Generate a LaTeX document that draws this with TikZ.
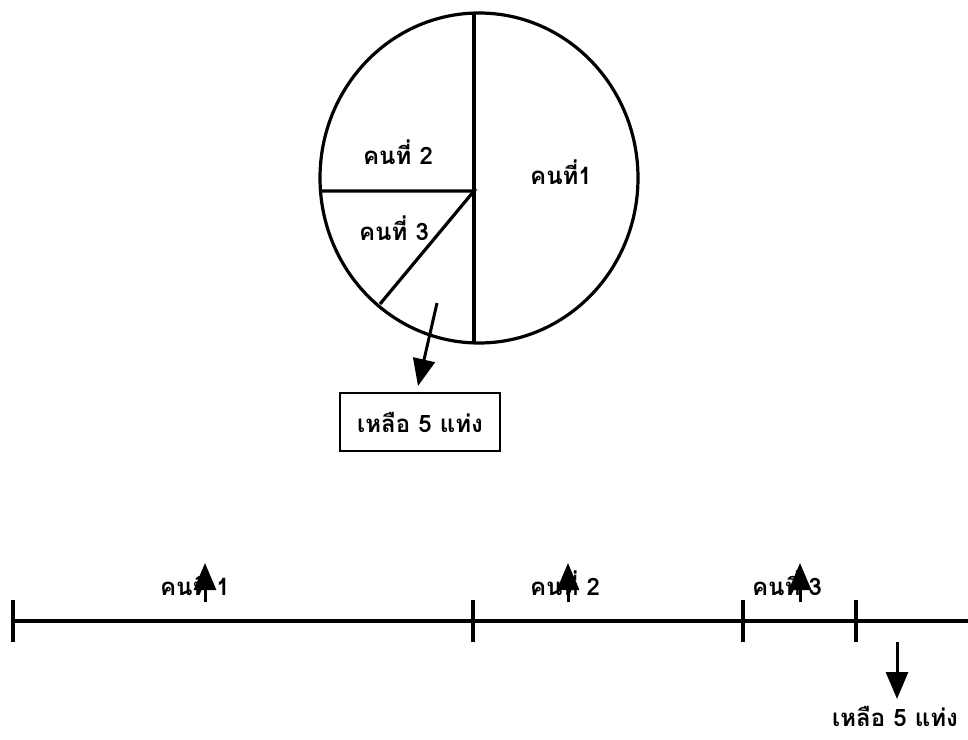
\documentclass[tikz,border=0pt]{standalone}
\usepackage{fontspec}
\newfontfamily\thaifont[Script=Thai]{Loma}
\usetikzlibrary{arrows.meta,positioning}
\tikzset{
  lbl/.style={font=\thaifont\bfseries\fontsize{24}{27}\selectfont,inner sep=0pt},
  restbox/.style={lbl,draw,line width=2.6pt,minimum width=160pt,minimum height=58pt},
  bar/.style={line width=3.2pt},
  ptr/.style={-{Triangle[width=22pt,length=27pt]},line width=3pt}
}

\begin{document}
\begin{tikzpicture}[x=1pt,y=-1pt]
  \useasboundingbox (0,0) rectangle (968,739);
  % pie
  \draw[bar] (479,178) ellipse [x radius=159pt,y radius=165pt];
  \coordinate (ptop) at (474,13);
  \coordinate (pbot) at (474,343);
  \coordinate (pc) at (474,191);
  \coordinate (pleft) at (320,191);
  \coordinate (pcut) at (380,304);
  \draw[bar] (ptop) -- (pbot);
  \draw[bar] (pleft) -- (pc) -- (pcut);
  \node[lbl] (p1) at (561,172) {คนที่1};
  \node[lbl] (p2) at (398,152) {คนที่ 2};
  \node[lbl] (p3) at (394,228) {คนที่ 3};
  % what is left
  \node[restbox] (rest) at (420,422) {เหลือ 5 แท่ง};
  \coordinate (a0) at (437,303);
  \coordinate (a1) at (418,386);
  \draw[ptr] (a0) -- (a1);
  % number line
  \coordinate (n0) at (13,621);
  \coordinate (n1) at (473,621);
  \coordinate (n2) at (743,621);
  \coordinate (n3) at (856,621);
  \coordinate (nend) at (968,621);
  \draw[bar] (n0) -- (nend);
  \foreach \n in {n0,n1,n2,n3}
    \draw[bar] ([yshift=21pt]\n) -- ([yshift=-21pt]\n);
  \node[lbl] (k1) at (195,583) {คนที่ 1};
  \node[lbl] (k2) at (565,583) {คนที่ 2};
  \node[lbl] (k3) at (787,583) {คนที่ 3};
  \foreach \i/\x in {1/205,2/568,3/800} {
    \coordinate (u\i) at (\x,602);
    \coordinate (t\i) at (\x,563);
    \draw[ptr] (u\i) -- (t\i);
  }
  \node[lbl] (rest2) at (895,716) {เหลือ 5 แท่ง};
  \coordinate (d0) at (897,642);
  \coordinate (d1) at (897,699);
  \draw[ptr] (d0) -- (d1);
\end{tikzpicture}
\end{document}
